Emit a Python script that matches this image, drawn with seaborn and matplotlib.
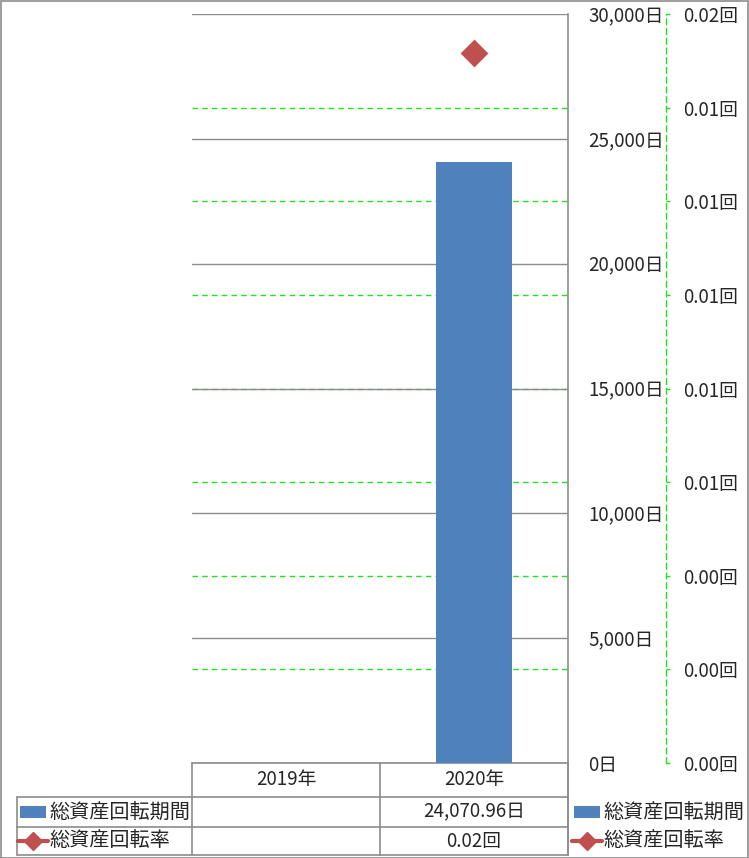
import numpy as np
import pandas as pd
import matplotlib
matplotlib.use("Agg")
import matplotlib.pyplot as plt
from matplotlib.lines import Line2D
from matplotlib.patches import Rectangle
import seaborn as sns

# ---- data ----
years = ["2019年", "2020年"]
period_days = [np.nan, 24070.96]      # 総資産回転期間 (日)
turnover = [np.nan, 0.01895]          # 総資産回転率 (回)
turnover_label = ["", "0.02回"]
left_ticks = [0, 5000, 10000, 15000, 20000, 25000, 30000]
right_ticks = [0, 0.0025, 0.005, 0.0075, 0.01, 0.0125, 0.015, 0.0175, 0.02]
right_tick_labels = ["0.00回", "0.00回", "0.00回", "0.01回", "0.01回",
                     "0.01回", "0.01回", "0.01回", "0.02回"]
series1 = "総資産回転期間"
series2 = "総資産回転率"

BLUE = "#4F81BD"
RED = "#C0504D"
GREEN = "#22E022"
GREY = "#8C8C8C"

sns.set_style("white")
plt.rcParams["font.family"] = ["Noto Sans CJK JP", "DejaVu Sans"]
FS = 13.5
FS_CJK = 14.5

W, H = 749, 858
fig = plt.figure(figsize=(W / 100, H / 100), dpi=100)

def fx(px):
    return px / W

def fy(py):
    return 1 - py / H

L, R, T, B = 192, 568, 14, 763
ax = fig.add_axes([fx(L), fy(B), fx(R) - fx(L), fy(T) - fy(B)])
ax2 = ax.twinx()
ax.set_zorder(2)
ax2.set_zorder(1)
ax.patch.set_visible(False)

df = pd.DataFrame({"year": years, "days": period_days, "rate": turnover})

sns.barplot(data=df, x="year", y="days", order=years, color=BLUE,
            saturation=1, width=0.4, ax=ax, zorder=3, linewidth=0,
            edgecolor=BLUE)
ax.set_xlim(-0.5, len(years) - 0.5)
ax.set_ylim(0, 30000)
ax.set_yticks(left_ticks)
ax.set_yticklabels([f"{v:,.0f}日" for v in left_ticks])
ax.yaxis.tick_right()
ax.tick_params(axis="y", length=0, pad=14.4, labelsize=FS)
for lbl in ax.get_yticklabels():
    lbl.set_horizontalalignment("left")
ax.set_xticks([])
ax.set_xlabel("")
ax.set_ylabel("")
for v in left_ticks:
    ax.axhline(v, color=GREY, lw=1, zorder=1)
for s in ["left", "top", "bottom"]:
    ax.spines[s].set_visible(False)
ax.spines["right"].set_color(GREY)
ax.spines["right"].set_linewidth(1.2)

# secondary axis
pos = np.arange(len(years))
mask = ~np.isnan(df["rate"].values)
sns.scatterplot(x=pos[mask], y=df["rate"].values[mask], ax=ax2, marker="D",
                s=200, color=RED, edgecolor=RED, linewidth=0, zorder=5)
ax2.set_ylim(0, 0.02)
ax2.set_yticks(right_ticks)
ax2.set_yticklabels(right_tick_labels)
ax2.tick_params(axis="y", length=3, width=1, color=GREEN, pad=9, labelsize=FS)
for v in right_ticks[1:-1]:
    ax2.axhline(v, color=GREEN, lw=1, ls=(0, (4, 3)), zorder=0)
for s in ["left", "top", "bottom"]:
    ax2.spines[s].set_visible(False)
ax2.spines["right"].set_position(("axes", (666 - L) / (R - L)))
ax2.spines["right"].set_color(GREEN)
ax2.spines["right"].set_linestyle((0, (4, 3)))
ax2.spines["right"].set_linewidth(1)
ax2.set_ylabel("")

# ---- data table ----
col_w = (R - L) / len(years)
rows_y = [763, 797, 827, 855]

def hline(x0, x1, y):
    fig.add_artist(Line2D([fx(x0), fx(x1)], [fy(y), fy(y)], color=GREY, lw=1.2))

def vline(x, y0, y1):
    fig.add_artist(Line2D([fx(x), fx(x)], [fy(y0), fy(y1)], color=GREY, lw=1.2))

hline(L, R, rows_y[0])
hline(17, R, rows_y[1])
hline(17, R, rows_y[2])
hline(17, R, rows_y[3])
for i in range(len(years) + 1):
    vline(L + i * col_w, rows_y[0], rows_y[3])
vline(17, rows_y[1], rows_y[3])
vline(R, rows_y[0], rows_y[3])

for i, y in enumerate(years):
    cx = L + (i + 0.5) * col_w
    fig.text(fx(cx), fy((rows_y[0] + rows_y[1]) / 2 - 1), y, ha="center", va="center",
             fontsize=FS)
    v = period_days[i]
    if not np.isnan(v):
        fig.text(fx(cx), fy((rows_y[1] + rows_y[2]) / 2), f"{v:,.2f}日",
                 ha="center", va="center", fontsize=FS)
    if turnover_label[i]:
        fig.text(fx(cx), fy((rows_y[2] + rows_y[3]) / 2), turnover_label[i],
                 ha="center", va="center", fontsize=FS)

def legend_keys(x0, y1, y2):
    fig.add_artist(Rectangle((fx(x0 + 2), fy(y1 + 6)), fx(26), 12 / H,
                             color=BLUE, lw=0))
    fig.add_artist(Line2D([fx(x0), fx(x0 + 30)], [fy(y2), fy(y2)], color=RED, lw=3))
    fig.add_artist(Line2D([fx(x0 + 15)], [fy(y2)], color=RED, marker="D",
                          markersize=9.5, lw=0))
    fig.text(fx(x0 + 31), fy(y1), series1, ha="left", va="center", fontsize=FS_CJK)
    fig.text(fx(x0 + 31), fy(y2), series2, ha="left", va="center", fontsize=FS_CJK)

legend_keys(18, (rows_y[1] + rows_y[2]) / 2, (rows_y[2] + rows_y[3]) / 2)
legend_keys(572, (rows_y[1] + rows_y[2]) / 2, (rows_y[2] + rows_y[3]) / 2)

# outer frame
fig.add_artist(Rectangle((0.5 / W, 0.5 / H), 1 - 1.5 / W, 1 - 1.5 / H, fill=False,
                         edgecolor=GREY, lw=1.2))

fig.savefig("out.png", dpi=100)
